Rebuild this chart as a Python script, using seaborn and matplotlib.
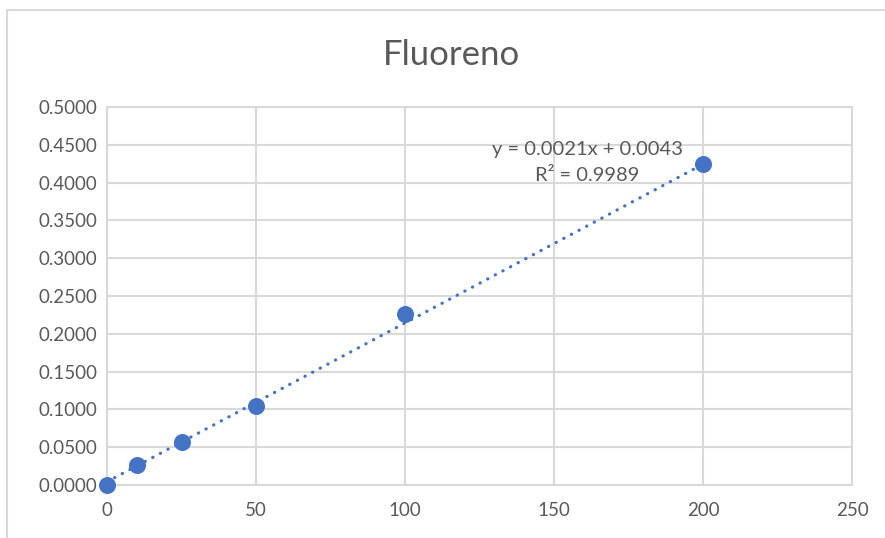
import numpy as np
import pandas as pd
import seaborn as sns
from matplotlib import pyplot as plt
from matplotlib.patches import Rectangle

# calibration points
concentracao = [0, 10, 25, 50, 100, 200]
absorbancia = [0.0000, 0.0265, 0.0572, 0.1045, 0.2265, 0.4245]

# linear trendline as printed on the chart
slope = 0.0021
intercept = 0.0043
r2 = 0.9989

blue = '#4472C4'
grid = '#D9D9D9'
txt = '#595959'

sns.set_theme(style='white')
plt.rcParams['font.family'] = ['Lato', 'DejaVu Sans']

df = pd.DataFrame({'x': concentracao, 'y': absorbancia})
xfit = np.array([min(concentracao), max(concentracao)])
dfFit = pd.DataFrame({'x': xfit, 'y': slope * xfit + intercept})

fig = plt.figure(figsize=(8.85, 5.38), dpi=100)
ax = fig.add_axes([107 / 885, 53 / 538, 745 / 885, 378 / 538])

sns.lineplot(ax=ax, x='x', y='y', data=dfFit, color=blue, linewidth=2.3,
             linestyle=(0, (0.1, 2.6)), dash_capstyle='round', zorder=2)
sc = sns.scatterplot(ax=ax, x='x', y='y', data=df, color=blue, s=150,
                     edgecolor=blue, linewidth=0, zorder=3, clip_on=False)

ax.set_xlim(0, 250)
ax.set_ylim(0, 0.5)
ax.set_xticks(np.arange(0, 251, 50))
ax.set_yticks(np.arange(0, 0.5001, 0.05))
ax.set_yticklabels(['%.4f' % v for v in np.arange(0, 0.5001, 0.05)])
ax.grid(True, color=grid, linewidth=1.5)
ax.set_axisbelow(True)
for sp in ax.spines.values():
    sp.set_color(grid)
    sp.set_linewidth(1.5)
ax.tick_params(axis='y', length=4, width=1.5, color=grid, pad=3, labelsize=13.5, labelcolor=txt)
ax.tick_params(axis='x', length=0, pad=12, labelsize=13.5, labelcolor=txt)
ax.set_xlabel('')
ax.set_ylabel('')

fig.text(452 / 885, 1 - 55 / 538, 'Fluoreno', ha='center', va='center', fontsize=25, color=txt)
fig.text(587 / 885, 1 - 150 / 538, 'y = %.4fx + %.4f' % (slope, intercept),
         ha='center', va='center', fontsize=14.5, color=txt)
fig.text(587 / 885, 1 - 176 / 538, 'R² = %.4f' % r2,
         ha='center', va='center', fontsize=14.5, color=txt)

# outer chart border (cut off at right and bottom)
fig.patches.append(Rectangle((7 / 885, -0.1), 1.2, 1 - 10 / 538 + 0.1, transform=fig.transFigure,
                             fill=False, edgecolor=grid, linewidth=1.5))

fig.savefig('out.png', dpi=100)
plt.close()
